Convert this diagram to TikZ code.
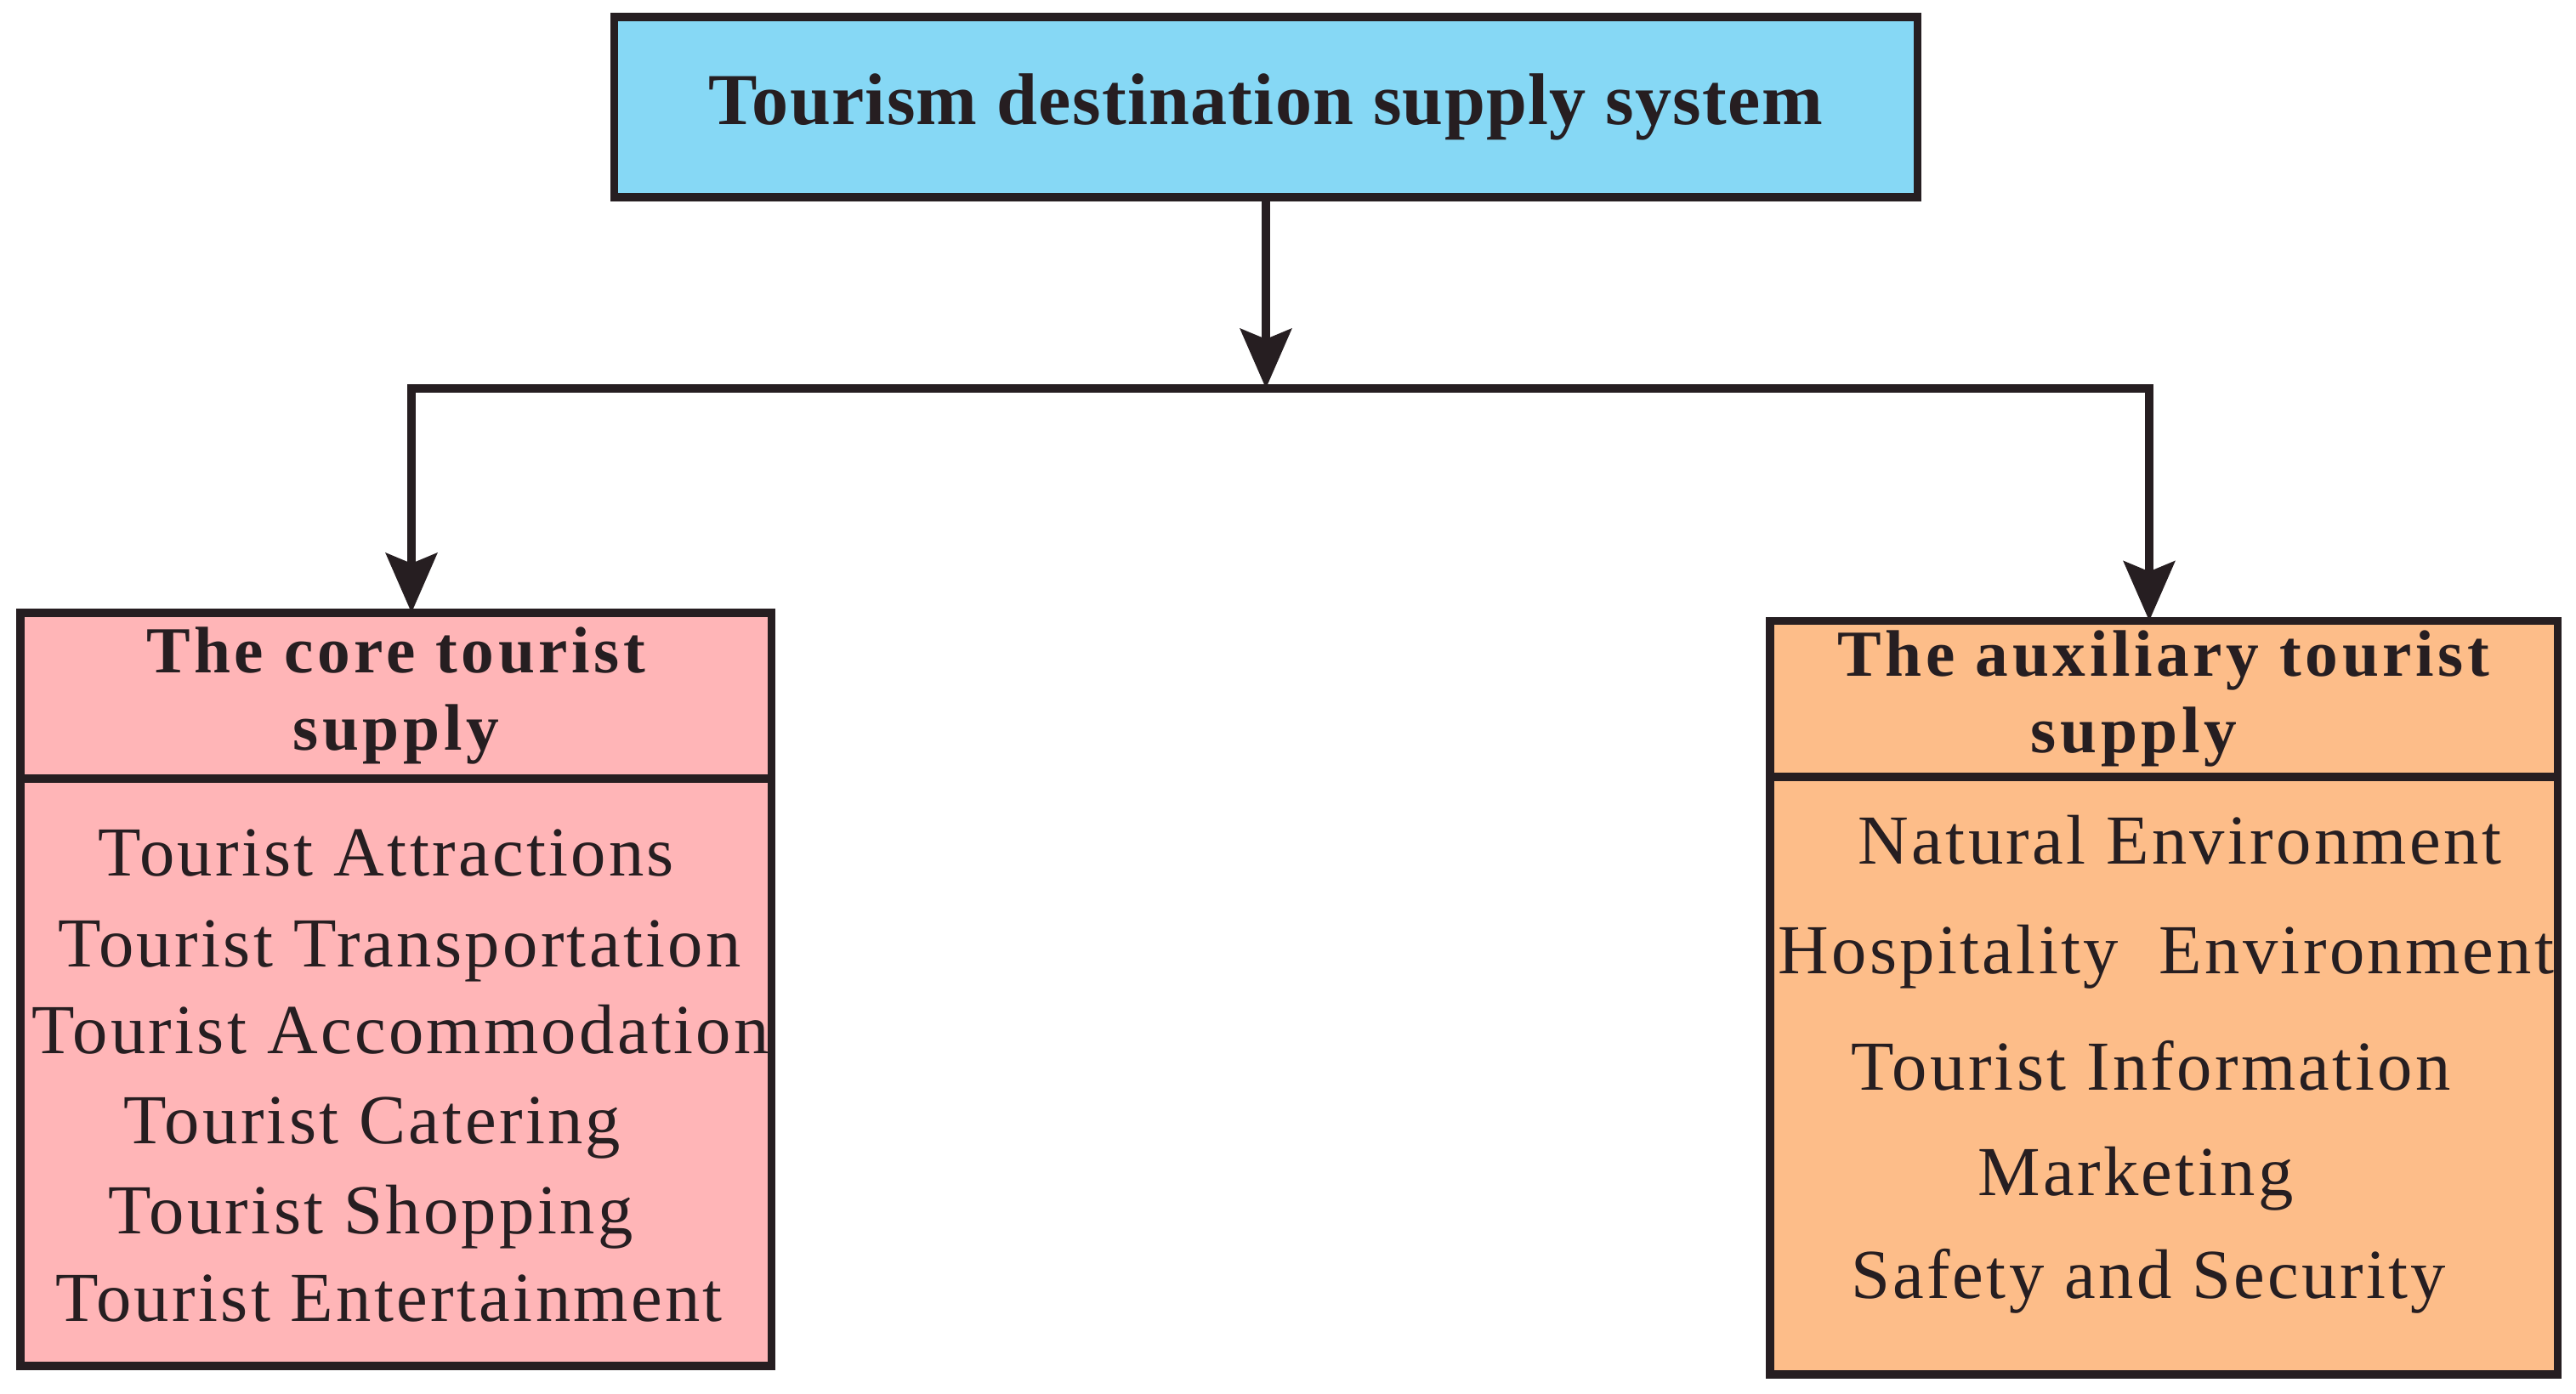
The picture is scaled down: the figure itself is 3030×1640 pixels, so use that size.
\documentclass[tikz,border=0pt]{standalone}
\usepackage{fontspec}
\setmainfont{Liberation Serif}
\newfontfamily\titlefont{Liberation Serif}[LetterSpace=1.5]
\newfontfamily\headfont{Liberation Serif}[LetterSpace=6]
\newfontfamily\itemfont{Liberation Serif}[LetterSpace=4]
\usetikzlibrary{arrows.meta}
\definecolor{inkc}{RGB}{38,30,33}
\definecolor{bluefill}{RGB}{134,216,245}
\definecolor{pinkfill}{RGB}{255,181,183}
\definecolor{orangefill}{RGB}{253,189,137}
\tikzset{
  boxstyle/.style={draw=inkc, line width=0.095cm, inner sep=0pt, outer sep=0pt, text=inkc},
  titlestyle/.style={font=\titlefont\fontsize{24.5}{29}\selectfont\bfseries},
  headstyle/.style={font=\headfont\fontsize{22}{25.6}\selectfont\bfseries, align=center},
  itemstyle/.style={font=\itemfont\fontsize{23.5}{28}\selectfont, text=inkc, anchor=base, inner sep=0pt},
  conn/.style={draw=inkc, line width=0.095cm, line join=miter,
    arrows={Stealth[length=0.7cm, width=0.6cm, inset=0.12cm]-Stealth[length=0.7cm, width=0.6cm, inset=0.12cm]}},
  connone/.style={draw=inkc, line width=0.095cm,
    arrows={-Stealth[length=0.7cm, width=0.6cm, inset=0.12cm]}}
}
\begin{document}
\begin{tikzpicture}[x=0.01cm, y=-0.01cm]
\useasboundingbox (0,0) rectangle (3030,1640);
\fill[white] (0,0) rectangle (3030,1640);

% top box
\node[boxstyle, titlestyle, fill=bluefill, minimum width=15.32cm, minimum height=2.12cm]
  (title) at (1489,126) {Tourism destination supply system};

% left box
\node[boxstyle, headstyle, fill=pinkfill, minimum width=8.825cm, minimum height=1.95cm]
  (lefthead) at (465.75,818.5) {The core tourist\\supply};
\node[boxstyle, fill=pinkfill, minimum width=8.825cm, minimum height=6.91cm]
  (leftbody) at (465.75,1261.5) {};

% right box
\node[boxstyle, headstyle, fill=orangefill, minimum width=9.26cm, minimum height=1.835cm]
  (righthead) at (2545,822.25) {The auxiliary tourist\\\hspace*{-0.7cm}supply};
\node[boxstyle, fill=orangefill, minimum width=9.26cm, minimum height=7.03cm]
  (rightbody) at (2545,1265.5) {};

% left items
\node[itemstyle] (l1) at (454.5,1030) {Tourist Attractions};
\node[itemstyle] (l2) at (470,1137.5) {Tourist Transportation};
\node[itemstyle] (l3) at (471,1239) {Tourist Accommodation};
\node[itemstyle] (l4) at (438,1345) {Tourist Catering};
\node[itemstyle] (l5) at (436,1451) {Tourist Shopping};
\node[itemstyle] (l6) at (457.5,1554.5) {Tourist Entertainment};

% right items
\node[itemstyle] (r1) at (2564,1016) {Natural Environment};
\node[itemstyle] (r2) at (2548,1145) {Hospitality~~Environment};
\node[itemstyle] (r3) at (2530,1282) {Tourist Information};
\node[itemstyle] (r4) at (2512,1406) {Marketing};
\node[itemstyle] (r5) at (2527,1527) {Safety and Security};

% connectors
\coordinate (jl) at (484,457);
\coordinate (jr) at (2528,457);
\draw[connone] (title.south) -- (title.south |- jl);
\draw[conn] (jl |- lefthead.north) -- (jl) -- (jr) -- (jr |- righthead.north);
\end{tikzpicture}
\end{document}
